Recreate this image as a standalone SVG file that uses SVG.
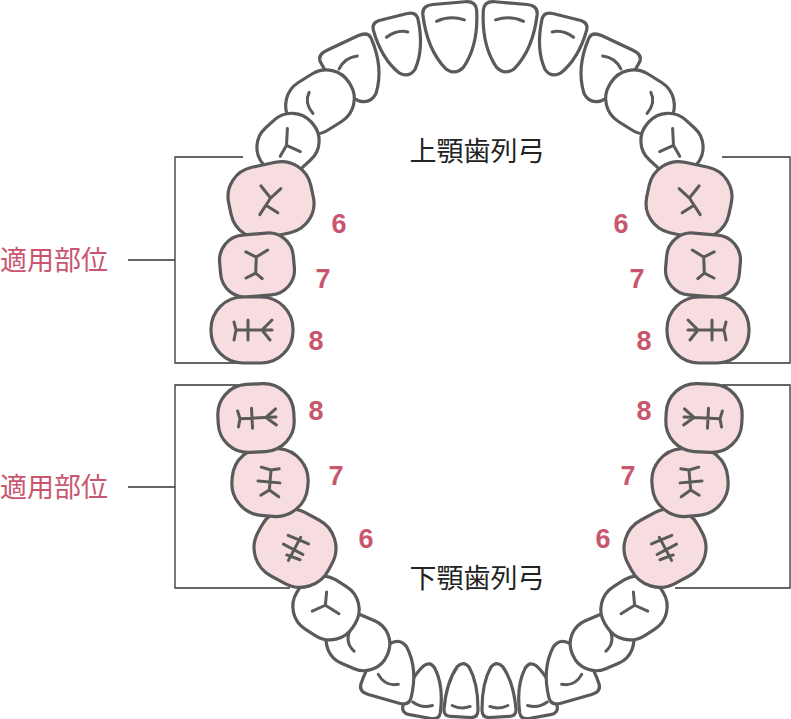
<svg xmlns="http://www.w3.org/2000/svg" xmlns:xlink="http://www.w3.org/1999/xlink" width="791" height="719" viewBox="0 0 791 719">
<style>
.t{fill:#fff;stroke:#5a5a5a;stroke-width:3.2;stroke-linejoin:round}
.p{fill:#f8dde0}
.m{fill:none;stroke:#5a5a5a;stroke-width:3;stroke-linecap:round;stroke-linejoin:round}
.br{fill:none;stroke:#333;stroke-width:1.3}
.n{font-family:"Liberation Sans",Arial,sans-serif;font-weight:bold;font-size:27px;fill:#c9566f;text-anchor:middle}
.lab{font-family:"Noto Sans CJK JP",sans-serif;font-size:27px;fill:#c9566f}
.jaw{font-family:"Noto Sans CJK JP",sans-serif;font-size:27px;fill:#222;text-anchor:middle}
</style>
<g id="connectors">
<path class="br" d="M243,157H175V363H243M128,260H175"/>
<path class="br" d="M243,385H175V588H290M128,487H175"/>
<path class="br" d="M722,157H790V363H722"/>
<path class="br" d="M722,385H790V588H675"/>
</g>
<g id="upper-left">
<g id="ul1" transform="translate(452,38) rotate(-5)"><path class="t" d="M-27,-26 Q-27,-35 -16,-35 L16,-35 Q27,-35 27,-26 Q26,9 9,30 Q0,38 -9,30 Q-26,9 -27,-26Z"/><path class="m" d="M-14,-18 Q0,-23 14,-17"/></g>
<g id="ul2" transform="translate(401,46) rotate(-14)"><path class="t" d="M-23,-22 Q-23,-30 -14,-30 L14,-30 Q23,-30 23,-22 Q22,8 8,26 Q0,33 -8,26 Q-22,8 -23,-22Z"/><path class="m" d="M-12,-12 Q0,-17 10,-12"/></g>
<g id="ul3" transform="translate(356,72) rotate(-25)"><path class="t" d="M-28,-24 Q-28,-32 -17,-32 L17,-32 Q28,-32 28,-24 Q27,8 9,28 Q0,35 -9,28 Q-27,8 -28,-24Z"/><path class="m" d="M-14,-10 Q-4,-18 8,-14"/></g>
<g id="ul4" transform="translate(320,102) rotate(-32)"><rect class="t" x="-35" y="-28" width="70" height="56" rx="27"/><path class="m" d="M-12,6 Q-14,-8 -4,-14"/></g>
<g id="ul5" transform="translate(288,144) rotate(-42)"><rect class="t" x="-32" y="-27" width="64" height="54" rx="26"/><path class="m" d="M-14,4 L-2,0 L10,-12 M-2,0 L4,14"/></g>
<g id="ul6" transform="translate(271,200) rotate(-12)"><rect class="t p" x="-42" y="-36" width="84" height="72" rx="30"/><path class="m" d="M-14,12 L0,-2 L-7,-16 M0,-2 L12,-9 M-6,4 L4,14"/></g>
<g id="ul7" transform="translate(257,265) rotate(-5)"><rect class="t p" x="-37" y="-31" width="74" height="62" rx="25"/><path class="m" d="M-10,-14 L0,-8 L12,-14 M0,-8 L-2,8 L-12,12 M-2,8 L4,14"/></g>
<g id="ul8" transform="translate(252,330) rotate(0)"><rect class="t p" x="-41" y="-33" width="82" height="66" rx="32"/><path class="m" d="M-18,-8 L-16,0 L-18,10 M-16,0 L20,0 M-4,-10 L-4,10 M10,0 L20,-10 M10,0 L18,10"/></g>
</g>
<use id="upper-right" href="#upper-left" transform="matrix(-1,0,0,1,960,0)"/>
<g id="lower-left">
<g id="ll1" transform="translate(462,690) rotate(3)"><path class="t" d="M-17,20 Q-17,27 -10,27 L10,27 Q17,27 17,20 Q16,-7 6,-23 Q0,-30 -6,-23 Q-16,-7 -17,20Z"/><path class="m" d="M-9,16 Q0,20 9,16"/></g>
<g id="ll2" transform="translate(425,690) rotate(10)"><path class="t" d="M-19,20 Q-19,27 -11,27 L11,27 Q19,27 19,20 Q18,-7 6,-23 Q0,-30 -6,-23 Q-18,-7 -19,20Z"/><path class="m" d="M-10,14 Q0,19 10,14"/></g>
<g id="ll3" transform="translate(392,670) rotate(16)"><path class="t" d="M-26,22 Q-26,30 -16,30 L16,30 Q26,30 26,22 Q25,-8 8,-26 Q0,-33 -8,-26 Q-25,-8 -26,22Z"/><path class="m" d="M-12,8 Q-2,18 10,12"/></g>
<g id="ll4" transform="translate(358,642) rotate(23)"><rect class="t" x="-32" y="-26" width="64" height="52" rx="25"/><path class="m" d="M-12,-8 Q-12,6 0,10"/></g>
<g id="ll5" transform="translate(326,608) rotate(32)"><rect class="t" x="-33" y="-29" width="66" height="58" rx="27"/><path class="m" d="M-8,-14 L-2,-2 L-10,10 M-2,-2 L14,-2"/></g>
<g id="ll6" transform="translate(295,548) rotate(28)"><rect class="t p" x="-40" y="-36" width="80" height="72" rx="32"/><path class="m" d="M-12,-8 L10,-10 M0,-12 L0,14 M-12,2 L10,2 M-4,10 L10,8"/></g>
<g id="ll7" transform="translate(270,482) rotate(5)"><rect class="t p" x="-38" y="-34" width="76" height="68" rx="32"/><path class="m" d="M-10,-14 L0,-12 L8,-14 M0,-12 L0,8 M-12,0 L10,0 M0,8 L-8,14 M0,8 L10,14"/></g>
<g id="ll8" transform="translate(256,418) rotate(-3)"><rect class="t p" x="-38" y="-34" width="76" height="68" rx="30"/><path class="m" d="M-18,-8 L-16,0 L-18,8 M-16,0 L20,0 M-4,-10 L-4,10 M10,0 L20,-8 M10,0 L20,8"/></g>
</g>
<use id="lower-right" href="#lower-left" transform="matrix(-1,0,0,1,960,0)"/>
<g id="labels">
<text class="jaw" x="477" y="161">上顎歯列弓</text>
<text class="jaw" x="477" y="588">下顎歯列弓</text>
<text class="lab" x="0" y="270">適用部位</text>
<text class="lab" x="0" y="497">適用部位</text>
<text class="n" x="339" y="233">6</text><text class="n" x="323" y="288">7</text><text class="n" x="316" y="350">8</text>
<text class="n" x="621" y="233">6</text><text class="n" x="637" y="288">7</text><text class="n" x="644" y="350">8</text>
<text class="n" x="316" y="420">8</text><text class="n" x="336" y="485">7</text><text class="n" x="366" y="548">6</text>
<text class="n" x="644" y="420">8</text><text class="n" x="628" y="485">7</text><text class="n" x="603" y="548">6</text>
</g>
</svg>
